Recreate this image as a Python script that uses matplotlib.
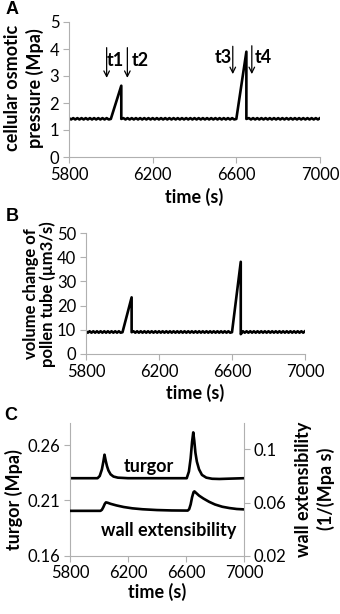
import matplotlib
matplotlib.use('Agg')
import matplotlib.pyplot as plt

plt.rcParams['font.family'] = ['Lato', 'DejaVu Sans']

# time axis shared by panels A and B (simulation output, ripple every ~20 s)
t_sim = [
    5800, 5810, 5820, 5830, 5840, 5850, 5860, 5870, 5880, 5890,
    5900, 5910, 5920, 5930, 5940, 5950, 5960, 5970, 5980, 5990,
    6000, 6050, 6050,
    6060, 6070, 6080, 6090, 6100, 6110, 6120, 6130, 6140, 6150,
    6160, 6170, 6180, 6190, 6200, 6210, 6220, 6230, 6240, 6250,
    6260, 6270, 6280, 6290, 6300, 6310, 6320, 6330, 6340, 6350,
    6360, 6370, 6380, 6390, 6400, 6410, 6420, 6430, 6440, 6450,
    6460, 6470, 6480, 6490, 6500, 6510, 6520, 6530, 6540, 6550,
    6560, 6570, 6580, 6590, 6600,
    6648, 6648,
    6660, 6670, 6680, 6690, 6700, 6710, 6720, 6730, 6740, 6750,
    6760, 6770, 6780, 6790, 6800, 6810, 6820, 6830, 6840, 6850,
    6860, 6870, 6880, 6890, 6900, 6910, 6920, 6930, 6940, 6950,
    6960, 6970, 6980, 6990, 7000,
]

# A: cellular osmotic pressure (Mpa)
osm_pressure = [
    1.44, 1.39, 1.44, 1.39, 1.44, 1.39, 1.44, 1.39, 1.44, 1.39,
    1.44, 1.39, 1.44, 1.39, 1.44, 1.39, 1.44, 1.39, 1.44, 1.39,
    1.41, 2.64, 1.41,
    1.44, 1.39, 1.44, 1.39, 1.44, 1.39, 1.44, 1.39, 1.44, 1.39,
    1.44, 1.39, 1.44, 1.39, 1.44, 1.39, 1.44, 1.39, 1.44, 1.39,
    1.44, 1.39, 1.44, 1.39, 1.44, 1.39, 1.44, 1.39, 1.44, 1.39,
    1.44, 1.39, 1.44, 1.39, 1.44, 1.39, 1.44, 1.39, 1.44, 1.39,
    1.44, 1.39, 1.44, 1.39, 1.44, 1.39, 1.44, 1.39, 1.44, 1.39,
    1.44, 1.39, 1.44, 1.39, 1.41,
    3.90, 1.41,
    1.44, 1.39, 1.44, 1.39, 1.44, 1.39, 1.44, 1.39, 1.44, 1.39,
    1.44, 1.39, 1.44, 1.39, 1.44, 1.39, 1.44, 1.39, 1.44, 1.39,
    1.44, 1.39, 1.44, 1.39, 1.44, 1.39, 1.44, 1.39, 1.44, 1.39,
    1.44, 1.39, 1.44, 1.39, 1.44,
]

# B: volume change of pollen tube (um3/s)
vol_change = [
    9.4, 8.8, 9.4, 8.8, 9.4, 8.8, 9.4, 8.8, 9.4, 8.8,
    9.4, 8.8, 9.4, 8.8, 9.4, 8.8, 9.4, 8.8, 9.4, 8.8,
    9.0, 23.4, 9.0,
    9.4, 8.8, 9.4, 8.8, 9.4, 8.8, 9.4, 8.8, 9.4, 8.8,
    9.4, 8.8, 9.4, 8.8, 9.4, 8.8, 9.4, 8.8, 9.4, 8.8,
    9.4, 8.8, 9.4, 8.8, 9.4, 8.8, 9.4, 8.8, 9.4, 8.8,
    9.4, 8.8, 9.4, 8.8, 9.4, 8.8, 9.4, 8.8, 9.4, 8.8,
    9.4, 8.8, 9.4, 8.8, 9.4, 8.8, 9.4, 8.8, 9.4, 8.8,
    9.4, 8.8, 9.4, 8.8, 9.0,
    38.1, 8.2,
    9.4, 8.8, 9.4, 8.8, 9.4, 8.8, 9.4, 8.8, 9.4, 8.8,
    9.4, 8.8, 9.4, 8.8, 9.4, 8.8, 9.4, 8.8, 9.4, 8.8,
    9.4, 8.8, 9.4, 8.8, 9.4, 8.8, 9.4, 8.8, 9.4, 8.8,
    9.4, 8.8, 9.4, 8.8, 9.4,
]

# arrows in A
arrow_names = ['t1', 't2', 't3', 't4']
arrow_x = [5980, 6079, 6583, 6674]
arrow_top = [4.05, 4.05, 4.1, 4.12]
arrow_tip = [2.93, 2.93, 3.07, 3.07]
label_x = [6022, 6143, 6536, 6727]
label_y = [3.57, 3.57, 3.67, 3.67]

# C: turgor (Mpa, left axis)
t_turgor = [5800, 5990, 6005, 6020, 6030, 6038, 6046, 6055, 6065, 6080,
            6100, 6130, 6200, 6605, 6620, 6632, 6642, 6650, 6657, 6665,
            6675, 6690, 6710, 6740, 6780, 6830, 6900, 7000]
turgor = [0.2300, 0.2300, 0.2320, 0.2380, 0.2450, 0.2513, 0.2460, 0.2410,
          0.2370, 0.2335, 0.2315, 0.2305, 0.2300, 0.2300, 0.2360, 0.2480,
          0.2630, 0.2715, 0.2640, 0.2530, 0.2450, 0.2380, 0.2330, 0.2305,
          0.2295, 0.2293, 0.2296, 0.2300]

# C: wall extensibility (1/(Mpa s), right axis)
t_wall = [5800, 6010, 6020, 6030, 6040, 6048, 6060, 6080, 6120, 6170,
          6230, 6300, 6400, 6500, 6612, 6622, 6632, 6642, 6652, 6658,
          6670, 6690, 6720, 6760, 6800, 6850, 6900, 6950, 7000]
wall_ext = [0.0537, 0.0537, 0.0545, 0.0565, 0.0590, 0.0601, 0.0598, 0.0590,
            0.0578, 0.0566, 0.0556, 0.0549, 0.0543, 0.0540, 0.0539, 0.0550,
            0.0585, 0.0640, 0.0678, 0.0684, 0.0672, 0.0652, 0.0630, 0.0605,
            0.0585, 0.0568, 0.0558, 0.0551, 0.0548]

time_ticks = [5800, 6200, 6600, 7000]
W, H = 340, 614
spine_col = '#b0b0b0'
tick_fs = 12
lab_fs = 13
line_w = 1.9


def style_axis(ax):
    for s in ['top', 'right']:
        ax.spines[s].set_visible(False)
    for s in ['left', 'bottom']:
        ax.spines[s].set_color(spine_col)
    ax.tick_params(axis='both', colors=spine_col, labelcolor='black',
                   labelsize=tick_fs, length=4, width=0.8, direction='out', pad=3)
    ax.set_xlim(5800, 7000)
    ax.set_xticks(time_ticks)


def axes_px(left, top, right, bottom):
    return fig.add_axes([left / W, 1 - bottom / H, (right - left) / W, (bottom - top) / H])


def bold_text(x, y, s, **kw):
    kw.setdefault('fontsize', lab_fs)
    fig.text(x / W, 1 - y / H, s, ha='center', va='center', fontweight='bold', **kw)


fig = plt.figure(figsize=(W / 100, H / 100), dpi=100)
letter_font = ['Liberation Sans', 'DejaVu Sans']

# ---- panel A
ax_a = axes_px(69, 22, 320, 157)
style_axis(ax_a)
ax_a.plot(t_sim, osm_pressure, color='black', lw=line_w)
ax_a.set_ylim(0, 5)
ax_a.set_yticks([0, 1, 2, 3, 4, 5])
for name, x, top, tip, lx, ly in zip(arrow_names, arrow_x, arrow_top, arrow_tip, label_x, label_y):
    ax_a.annotate('', xy=(x, tip), xytext=(x, top),
                  arrowprops=dict(arrowstyle='->', color='black', lw=0.9,
                                  shrinkA=0, shrinkB=0, mutation_scale=10))
    ax_a.text(lx, ly, name, ha='center', va='center', fontsize=lab_fs, fontweight='bold')
bold_text(194, 197, 'time (s)')
bold_text(24, 88, 'cellular osmotic\npressure (Mpa)', rotation=90,
          multialignment='center', linespacing=1.35)
bold_text(12, 10, 'A', fontsize=13, family=letter_font)

# ---- panel B
ax_b = axes_px(86, 233, 305, 354)
style_axis(ax_b)
ax_b.plot(t_sim, vol_change, color='black', lw=line_w)
ax_b.set_ylim(0, 50)
ax_b.set_yticks([0, 10, 20, 30, 40, 50])
bold_text(195, 393, 'time (s)')
bold_text(39.5, 294, 'volume change of\npollen tube (\u00b5m3/s)', rotation=90,
          multialignment='center', fontsize=12, linespacing=1.05)
bold_text(12, 217, 'B', fontsize=13, family=letter_font)

# ---- panel C
ax_c = axes_px(70, 423, 244, 555.5)
style_axis(ax_c)
ax_c.plot(t_turgor, turgor, color='black', lw=line_w)
ax_c.set_ylim(0.16, 0.28)
ax_c.set_yticks([0.16, 0.21, 0.26])
ax_c.set_yticklabels(['0.16', '0.21', '0.26'])
ax_c.text(6347, 0.2407, 'turgor', ha='center', va='center', fontsize=lab_fs, fontweight='bold')
ax_c.text(6478, 0.1826, 'wall extensibility', ha='center', va='center', fontsize=lab_fs,
          fontweight='bold')

ax_c2 = ax_c.twinx()
ax_c2.set_position(ax_c.get_position())
for s in ['top', 'left', 'bottom']:
    ax_c2.spines[s].set_visible(False)
ax_c2.spines['right'].set_color(spine_col)
ax_c2.tick_params(axis='y', colors=spine_col, labelcolor='black', labelsize=tick_fs,
                  length=4, width=0.8, direction='out', pad=3)
ax_c2.plot(t_wall, wall_ext, color='black', lw=line_w)
ax_c2.set_ylim(0.02, 0.12)
ax_c2.set_yticks([0.02, 0.06, 0.1])
ax_c2.set_yticklabels(['0.02', '0.06', '0.1'])

bold_text(157, 592, 'time (s)')
bold_text(14, 500, 'turgor (Mpa)', rotation=90)
bold_text(315, 489, 'wall extensibility\n(1/(Mpa s)', rotation=90,
          multialignment='center', linespacing=1.3)
bold_text(11, 415, 'C', fontsize=13, family=letter_font)

fig.savefig('out.png', dpi=100)
